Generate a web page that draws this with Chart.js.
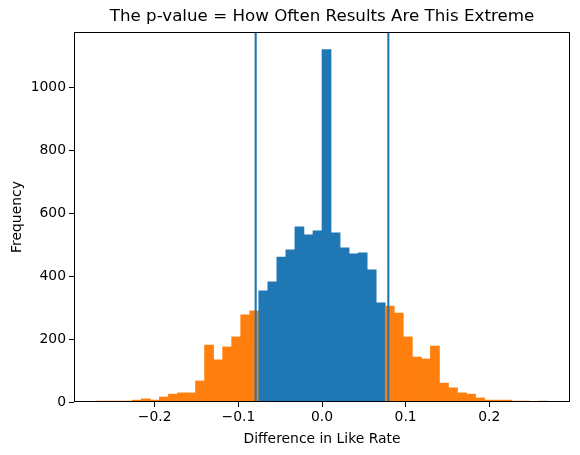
<!DOCTYPE html>
<html><head><meta charset="utf-8">
<script src="https://cdn.jsdelivr.net/npm/chart.js@4.4.0/dist/chart.umd.min.js"></script>
<style>html,body{margin:0;padding:0;background:#fff}</style>
</head><body>
<canvas id="c" width="580" height="455"></canvas>
<script>
// Histogram bins (matplotlib-style, 50 equal bins)
const binLow = -0.27;
const binHigh = 0.27;
const counts = [3,3,3,3,6,10,6,16,25,29,29,67,181,134,175,207,277,290,
  353,382,461,484,557,531,544,1120,538,490,471,474,420,315,
  305,283,207,143,137,178,60,45,29,25,13,6,6,6,3,3,0,3];
const threshold = 0.0793;
const xTicks = [-0.2,-0.1,0.0,0.1,0.2];
const yTicks = [0,200,400,600,800,1000];
const xMin = -0.2965, xMax = 0.2965, yMax = 1176;

const BLUE = '#1f77b4', ORANGE = '#ff7f0e';
const nBins = counts.length;
const binW = (binHigh - binLow) / nBins;
const barData = counts.map((c, i) => ({x: binLow + (i + 0.5) * binW, y: c}));

const FONT = 'DejaVu Sans';
const frame = {
  id: 'frame',
  afterDatasetsDraw(chart) {
    const a = chart.chartArea, ctx = chart.ctx;
    ctx.save();
    ctx.strokeStyle = '#000'; ctx.lineWidth = 1;
    ctx.strokeRect(Math.round(a.left) + 0.5, Math.round(a.top) + 0.5,
                   Math.round(a.right - a.left) - 1, Math.round(a.bottom - a.top) - 1);
    ctx.restore();
  }
};

new Chart(document.getElementById('c'), {
  type: 'bar',
  data: {
    datasets: [
      {
        type: 'line', data: [{x: -threshold, y: 0}, {x: -threshold, y: yMax}],
        borderColor: BLUE, borderWidth: 2.1, pointRadius: 0, order: 0
      },
      {
        type: 'line', data: [{x: threshold, y: 0}, {x: threshold, y: yMax}],
        borderColor: BLUE, borderWidth: 2.1, pointRadius: 0, order: 0
      },
      {
        type: 'bar', data: barData, order: 1,
        backgroundColor: ctx => {
          const r = ctx.raw;
          return (r && Math.abs(r.x) < threshold) ? BLUE : ORANGE;
        },
        borderWidth: 0, barPercentage: 1.0, categoryPercentage: 1.0
      }
    ]
  },
  options: {
    responsive: false,
    animation: false,
    layout: {padding: {left: 0, right: 10, top: 0, bottom: 0}},
    plugins: {
      legend: {display: false},
      tooltip: {enabled: false},
      title: {
        display: true,
        fullSize: false,
        align: 'center',
        text: 'The p-value = How Often Results Are This Extreme',
        color: '#000',
        font: {family: FONT, size: 16.7, weight: 'normal'},
        padding: {top: 7, bottom: 5}
      }
    },
    scales: {
      x: {
        type: 'linear', min: xMin, max: xMax, offset: false,
        afterBuildTicks: s => { s.ticks = xTicks.map(v => ({value: v})); },
        afterFit: s => { s.height = 53; },
        grid: {display: true, offset: false, drawOnChartArea: false, drawTicks: true, tickLength: 5, color: '#000', lineWidth: 1},
        border: {display: false},
        ticks: {
          color: '#000', font: {family: FONT, size: 13.9}, padding: 2, maxRotation: 0,
          callback: v => (v < 0 ? '\u2212' : '') + Math.abs(v).toFixed(1)
        },
        title: {display: true, text: 'Difference in Like Rate', color: '#000',
          font: {family: FONT, size: 13.9}, padding: {top: 0, bottom: 7}}
      },
      y: {
        type: 'linear', min: 0, max: yMax,
        afterBuildTicks: s => { s.ticks = yTicks.map(v => ({value: v})); },
        afterFit: s => { s.width = 74; },
        grid: {display: true, offset: false, drawOnChartArea: false, drawTicks: true, tickLength: 5, color: '#000', lineWidth: 1},
        border: {display: false},
        ticks: {color: '#000', font: {family: FONT, size: 13.9}, padding: 3,
          callback: v => String(v)},
        title: {display: true, text: 'Frequency', color: '#000',
          font: {family: FONT, size: 13.9}, padding: {top: 9, bottom: 0}}
      }
    }
  },
  plugins: [frame]
});
</script>
</body></html>
